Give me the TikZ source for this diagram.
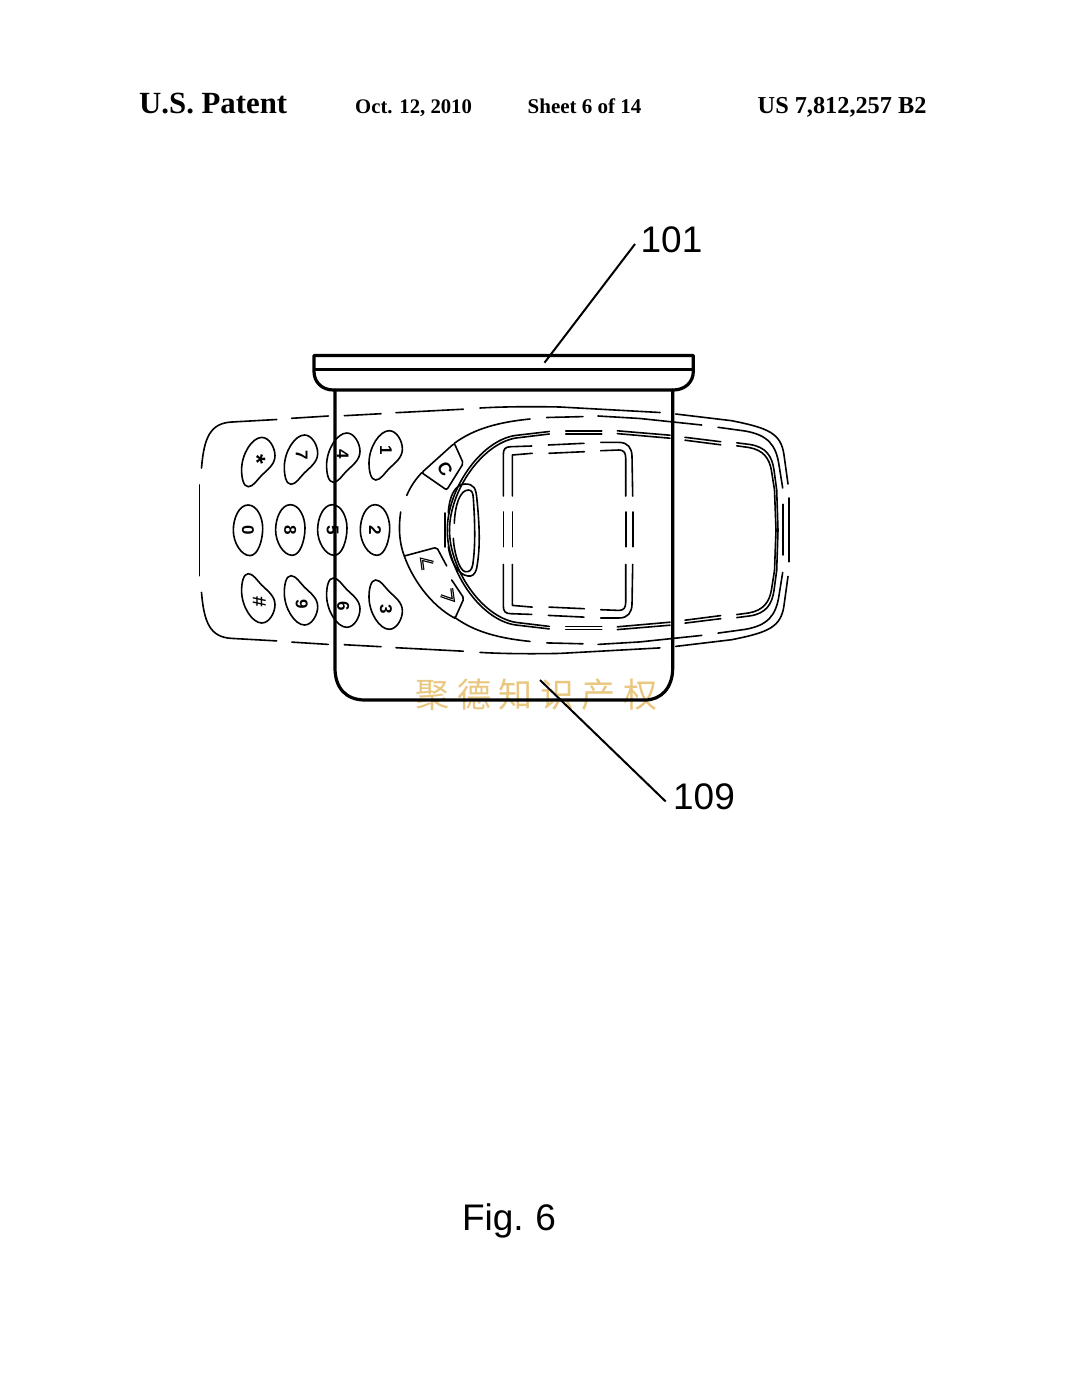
\documentclass[tikz,border=0pt]{standalone}
\usepackage{fontspec}
\setmainfont{Liberation Serif}
\setsansfont{Liberation Sans}
\newfontfamily\cjkmark{Noto Sans CJK SC}
\newcommand{\szz}[1]{\fontsize{#1}{#1}\selectfont}
\definecolor{markcol}{HTML}{E9C77F}
\tikzset{
  thinl/.style={line width=1.6pt,line cap=round,line join=round},
  cupl/.style={line width=3.2pt,line cap=round,line join=round},
  leadl/.style={line width=2pt},
  keyl/.style={line width=1.6pt},
  hdr/.style={inner sep=0pt,anchor=base west,font=\bfseries},
  lbl/.style={inner sep=0pt,font=\sffamily},
  digit/.style={inner sep=0pt,rotate=-90,font=\sffamily\bfseries\szz{17}},
  chev/.style={line width=3pt,line join=miter}
}
\newcommand{\keypath}{(3.5,-24.3) .. controls (11,-24.3) and (16.7,-14) .. (16.7,-6) .. controls (16.7,3) and (9,8) .. (3,14) .. controls (-1,18) and (-5,25) .. (-10,25) .. controls (-15,25) and (-16.7,16) .. (-16.7,8) .. controls (-16.7,-8) and (-6,-24.3) .. (3.5,-24.3) -- cycle}
\newcommand{\topkey}[2]{\draw[keyl,shift={(#1,#2)}] \keypath;}
\newcommand{\botkey}[2]{\draw[keyl,shift={(#1,#2)},yscale=-1] \keypath;}
\newcommand{\midkey}[2]{\draw[keyl,shift={(#1,#2)}] (0,-25.3) .. controls (9,-25.3) and (14.7,-13) .. (14.7,-2) .. controls (14.7,10) and (10,25.3) .. (2,25.3) .. controls (-7,25.3) and (-14.7,12) .. (-14.7,0) .. controls (-14.7,-12) and (-9,-25.3) .. (0,-25.3) -- cycle;}
\newcommand{\halfbody}{%
  % outer line L1
  \draw[thinl] (201.5,468) .. controls (204,438) and (210,423) .. (232,422) -- (276.7,419.5);
  \draw[thinl] (291.7,418.3) -- (328.3,416);
  \draw[thinl] (344.3,415.7) -- (381,413.7);
  \draw[thinl] (396,412.7) -- (463.3,409.2);
  \draw[thinl] (480,408) .. controls (505,406.5) and (535,406.5) .. (560,407) -- (660,412.5);
  \draw[thinl] (675.7,414) -- (731.7,420.7) .. controls (768,428) and (781,433) .. (784,455) -- (788,484);
  % line L2
  \draw[thinl] (454.3,443.3) .. controls (470,432) and (490,423) .. (530,419);
  \draw[thinl] (546.7,417.5) -- (583,416.6);
  \draw[thinl] (598,416) -- (640,418.5) -- (701.7,425);
  \draw[thinl] (718,427.3) -- (745,431) .. controls (768,435) and (776,445) .. (779,465) -- (782.7,488);
  % double line L3
  \draw[thinl] (549.3,431.5) -- (515,435.5) .. controls (480,441) and (447,490) .. (447.3,530.2);
  \draw[thinl] (549.3,434) -- (516,438) .. controls (482,443.5) and (449.5,491) .. (449.5,530.2);
  \draw[thinl] (565.7,430.8) -- (601.7,430.8);
  \draw[thinl] (565.7,433.8) -- (601.7,433.8);
  \draw[thinl] (617.3,430.8) -- (670,435.2);
  \draw[thinl] (617.3,433.6) -- (670,438.2);
  \draw[thinl] (685,437.3) -- (720.7,441.7);
  \draw[thinl] (685,440.2) -- (720.7,444.8);
  \draw[thinl] (736.7,442.8) -- (750,444.5) .. controls (766,447) and (772,456) .. (774,470) -- (776.7,490) -- (778,530.2);
  \draw[thinl] (736.7,445.8) -- (749,447.5) .. controls (763,450) and (769.5,458) .. (771.5,471) -- (774.5,490) -- (776,530.2);
  % screen
  \draw[thinl] (503.3,496) -- (503.3,455) .. controls (503.3,449) and (505,446.8) .. (511,446.7) -- (531.7,446);
  \draw[thinl] (548.3,445) -- (584,443.3);
  \draw[thinl] (600.7,442.4) -- (619,442.4) .. controls (628,442.4) and (631.7,448) .. (632,456) -- (632.7,496);
  \draw[thinl] (512.3,496) -- (512.3,455) -- (532.3,453.3);
  \draw[thinl] (549,453.3) -- (584.3,451.7);
  \draw[thinl] (600.7,450.7) -- (619,450) .. controls (624,450) and (625.7,453) .. (625.7,458) -- (625.7,496);
}
\begin{document}
\begin{tikzpicture}[x=1pt,y=-1pt]
\useasboundingbox (0,0) rectangle (1080,1392);
\fill[white] (0,0) rectangle (1080,1392);
% header
\node[hdr,font=\bfseries\szz{30.8}] (h1) at (139,113.5) {U.S. Patent};
\node[hdr,font=\bfseries\szz{20.7}] (h2) at (355,113) {Oct. 12, 2010};
\node[hdr,font=\bfseries\szz{21}] (h3) at (527.5,113) {Sheet 6 of 14};
\node[hdr,font=\bfseries\szz{24.3}] (h4) at (757.5,113) {US 7,812,257 B2};
% watermark
\node[inner sep=0pt,text=markcol] (wm) at (536.5,695) {\cjkmark\szz{34}聚\hspace{7.5pt}德\hspace{7.5pt}知\hspace{7.5pt}识\hspace{7.5pt}产\hspace{7.5pt}权};
% phone body
\halfbody
\begin{scope}[shift={(0,1060.4)},yscale=-1]
\halfbody
\end{scope}
% long middle dashes
\draw[thinl] (199.3,485) -- (199.3,575.7);
\draw[thinl] (789,498) -- (789,561.7);
\draw[thinl] (783.2,504.3) -- (783.2,555);
\draw[thinl] (503.3,512) -- (503.3,546.7);
\draw[thinl] (512.3,512) -- (512.3,546.7);
\draw[thinl] (625.7,512) -- (625.7,546.7);
\draw[thinl] (632.7,512) -- (632.7,546.7);
\draw[thinl] (444.7,513) -- (444.7,547);
% front arc and soft keys
\draw[thinl] (421.7,472.7) .. controls (414,481) and (410,488) .. (406.7,495.5);
\draw[thinl] (400.7,512) .. controls (398,530) and (400,545) .. (404.3,556) .. controls (412,578) and (430,605) .. (455,618.3);
\draw[thinl,rounded corners=2pt] (421.7,472.7) -- (446.7,490) -- (463.3,463.3) -- (454.3,443.3) -- cycle;
\draw[thinl,rounded corners=2pt] (404.3,556) -- (436.7,547.3) -- (446.7,566);
\draw[thinl,rounded corners=2pt] (451.7,580) -- (464,598.3) -- (455,618.3);
% oval
\draw[thinl] (448.3,513) .. controls (449,497) and (455,484) .. (465,484) .. controls (474,484) and (476,488) .. (477,500) .. controls (480,530) and (480,550) .. (476.7,568) .. controls (475,575) and (472,576.5) .. (468,576) .. controls (458,575) and (450,560) .. (448.3,546.7);
\draw[thinl] (454.3,523.3) .. controls (455,505) and (460,490) .. (468.3,490) .. controls (472,490) and (473,493) .. (473.3,498) .. controls (475.5,530) and (475,550) .. (472.7,565) .. controls (471.5,571) and (469,572) .. (465,571.7) .. controls (459,570) and (454,552) .. (453.3,538.3);
% soft-key glyphs
\node[digit,rotate=30,font=\sffamily\bfseries\szz{18}] (kc) at (445,469.3) {C};
\draw[chev] (433.3,562.3) -- (421.5,559.3) -- (423,570);
\draw[chev] (451.7,588.3) -- (453.3,600) -- (440.7,595.7);
\draw[line width=.5pt,white] (433.3,562.3) -- (421.5,559.3) -- (423,570);
\draw[line width=.5pt,white] (451.7,588.3) -- (453.3,600) -- (440.7,595.7);
% keypad
\topkey{258.3}{461.7}\topkey{301}{459.3}\topkey{343.3}{457.3}\topkey{385.7}{455}
\midkey{248}{530.3}\midkey{290.3}{530}\midkey{332.3}{530}\midkey{375}{530}
\botkey{258.3}{598.7}\botkey{301}{600.7}\botkey{343.3}{603}\botkey{385.7}{605}
\node[digit] (k1) at (386,450.7) {1};
\node[digit] (k2) at (375,530.7) {2};
\node[digit] (k3) at (386,609.3) {3};
\node[digit] (k4) at (342.7,454.3) {4};
\node[digit] (k5) at (332.7,530.7) {5};
\node[digit] (k6) at (343.3,606.7) {6};
\node[digit] (k7) at (301.7,455.7) {7};
\node[digit] (k8) at (290.3,530.7) {8};
\node[digit] (k9) at (301.7,604) {9};
\node[digit] (k0) at (248,530.7) {0};
\node[digit,font=\sffamily\bfseries\szz{25}] (kstar) at (256.7,459.5) {*};
\node[digit,font=\sffamily\bfseries\szz{19}] (khash) at (259.3,601.7) {\#};
% cup 109
\draw[cupl] (335,390) -- (335,668) .. controls (335,688) and (346,700) .. (365,700) -- (645,700) .. controls (661,700) and (672.7,688) .. (672.7,668) -- (672.7,390);
% lid 101
\draw[cupl] (314,371.5) -- (314,355.5) -- (693.3,355.5) -- (693.3,371.5) .. controls (693.3,382) and (685,390) .. (673.3,390) -- (333.3,390) .. controls (322,390) and (314,382) .. (314,371.5);
\draw[line width=2.2pt] (314,369.5) -- (693.3,369.5);
% leaders and labels
\coordinate (a1) at (635,244);
\coordinate (a2) at (544.5,362.7);
\draw[leadl] (a1) -- (a2);
\coordinate (b1) at (540,680);
\coordinate (b2) at (665.7,801.5);
\draw[leadl] (b1) -- (b2);
\node[lbl,font=\sffamily\szz{37}] (l101) at (671.5,240) {101};
\node[lbl,font=\sffamily\szz{37}] (l109) at (704,796.5) {109};
\node[lbl,font=\sffamily\szz{37}] (fig) at (509,1220.5) {Fig.\hspace{-2pt} 6};
\end{tikzpicture}
\end{document}
